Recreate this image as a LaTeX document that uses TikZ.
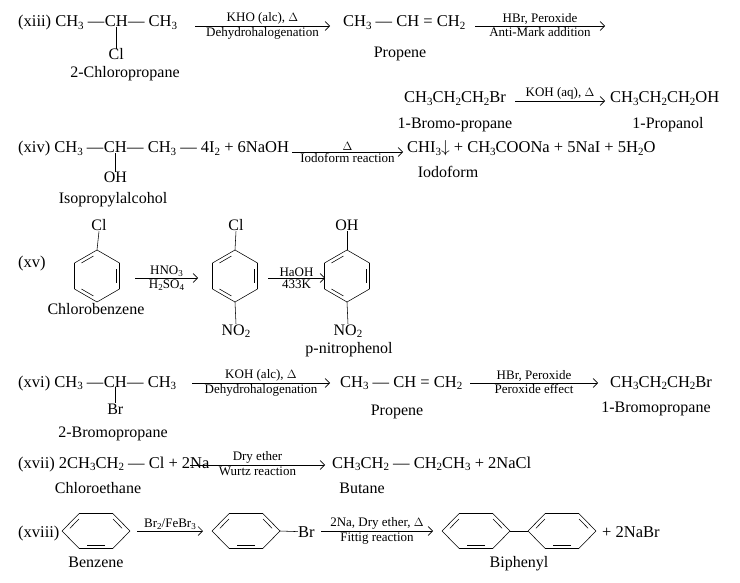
\documentclass[tikz,border=0pt]{standalone}
\usepackage{fontspec}
\setmainfont{Liberation Serif}
\usetikzlibrary{arrows.meta}
\newcommand\s[1]{\raisebox{-0.35ex}{\fontsize{11}{11}\selectfont #1}}
\newcommand\smsub[1]{\raisebox{-0.35ex}{\fontsize{9}{9}\selectfont #1}}
\newcommand\myring[5]{% x y startangle rx ry
  \foreach \a in {0,60,...,300}{\draw[bond] ([shift={(#1,#2)}]#3+\a:#4 and #5) -- ([shift={(#1,#2)}]#3+\a+60:#4 and #5);}
  \foreach \a in {0,120,240}{\draw[bond] ([shift={(#1,#2)}]#3+\a+10:#4*0.78 and #5*0.78) -- ([shift={(#1,#2)}]#3+\a+50:#4*0.78 and #5*0.78);}
}
\begin{document}
\begin{tikzpicture}[x=1pt,y=-1pt,
  t/.style={anchor=base west,inner sep=0pt,font=\fontsize{16.5}{18}\selectfont},
  lab/.style={anchor=base,inner sep=0pt,font=\fontsize{16}{18}\selectfont},
  sm/.style={inner sep=1.5pt,font=\fontsize{13}{14}\selectfont},
  bond/.style={line width=0.55pt},
  arr/.style={line width=0.55pt,-{Straight Barb[length=4.5pt,width=9pt]}}]
\useasboundingbox (0,0) rectangle (740,583);
\newcommand\rxn[5]{\draw[arr] (#1,#3) -- node[sm,above]{#4} node[sm,below]{#5} (#2,#3);}
% xiii
\node[t] (a1) at (18,27) {(xiii) CH\s3 --- };
\node[t] (a2) at (a1.base east) {CH};
\node[t] (a3) at (a2.base east) { --- CH\s3};
\node[lab] (a4) at ([yshift=-33]a2.base) {Cl};
\draw[bond] (a2.south) -- (a4.north);
\node[lab] (a5) at (125,78) {2-Chloropropane};
\rxn{195}{330}{26}{KHO (alc), $\Delta$}{Dehydrohalogenation}
\node[t] (b1) at (343,27) {CH\s3 --- CH = CH\s2};
\node[lab] (b2) at (400,58) {Propene};
\rxn{475}{605}{26}{HBr, Peroxide}{Anti-Mark addition}
\node[t] (c1) at (404,103) {CH\s3CH\s2CH\s2Br};
\rxn{515}{605}{101}{KOH (aq), $\Delta$}{}
\node[t] (c2) at (610,103) {CH\s3CH\s2CH\s2OH};
\node[lab] (c3) at (455,129) {1-Bromo-propane};
\node[lab] (c4) at (668,129) {1-Propanol};
% xiv
\node[t] (d1) at (18,153) {(xiv) CH\s3 --- };
\node[t] (d2) at (d1.base east) {CH};
\node[t] (d3) at (d2.base east) { --- CH\s3 --- 4I\s2 + 6NaOH};
\node[lab] (d4) at ([yshift=-30]d2.base) {OH};
\draw[bond] (d2.south) -- (d4.north);
\node[lab] (d5) at (113,204) {Isopropylalcohol};
\rxn{292}{403}{152}{$\Delta$}{Iodoform reaction}
\node[t] (e1) at (407,153) {CHI\s3$\downarrow$ + CH\s3COONa + 5NaI + 5H\s2O};
\node[lab] (e2) at (448,178) {Iodoform};
% xv
\node[t] (f0) at (18,268) {(xv)};
\myring{97}{276}{90}{26}{26}
\node[lab] (f1) at (99,231) {Cl};
\draw[bond] (97,250) -- (f1.south);
\node[lab] (f2) at (96,315) {Chlorobenzene};
\rxn{135}{198}{278}{HNO\smsub3}{H\smsub2SO\smsub4}
\myring{235}{276}{90}{26}{26}
\node[lab] (g1) at (236,231) {Cl};
\draw[bond] (235,250) -- (g1.south);
\node[lab] (g2) at (236,335) {NO\s2};
\draw[bond] (235,302) -- (g2.north);
\rxn{268}{325}{278}{HaOH}{433K}
\myring{347}{276}{90}{26}{26}
\node[lab] (h1) at (347,231) {OH};
\draw[bond] (347,250) -- (h1.south);
\node[lab] (h2) at (348,335) {NO\s2};
\draw[bond] (347,302) -- (h2.north);
\node[lab] (h3) at (349,353) {p-nitrophenol};
% xvi
\node[t] (i1) at (18,387) {(xvi) CH\s3 --- };
\node[t] (i2) at (i1.base east) {CH};
\node[t] (i3) at (i2.base east) { --- CH\s3};
\node[lab] (i4) at ([yshift=-27]i2.base) {Br};
\draw[bond] (i2.south) -- (i4.north);
\node[lab] (i5) at (113,437) {2-Bromopropane};
\rxn{192}{330}{383}{KOH (alc), $\Delta$}{Dehydrohalogenation}
\node[t] (j1) at (340,387) {CH\s3 --- CH = CH\s2};
\node[lab] (j2) at (397,415) {Propene};
\rxn{470}{598}{383}{HBr, Peroxide}{Peroxide effect}
\node[t] (j3) at (610,387) {CH\s3CH\s2CH\s2Br};
\node[lab] (j4) at (656,412) {1-Bromopropane};
% xvii
\node[t] (k1) at (18,468) {(xvii) 2CH\s3CH\s2 --- Cl + 2Na};
\rxn{190}{325}{465}{Dry ether}{Wurtz reaction}
\node[t] (k2) at (332,468) {CH\s3CH\s2 --- CH\s2CH\s3 + 2NaCl};
\node[lab] (k3) at (98,493) {Chloroethane};
\node[lab] (k4) at (362,493) {Butane};
% xviii
\node[t] (l0) at (18,537) {(xviii)};
\myring{96}{531}{60}{34}{20}
\node[lab] (l1) at (96,567) {Benzene};
\draw[arr] (137,531) -- node[sm,above]{Br\smsub2/FeBr\smsub3} (203,531);
\myring{246}{531}{60}{34}{20}
\node[t] (l2) at (298,537) {Br};
\draw[bond] (280,531) -- (l2.west);
\rxn{321}{433}{531}{2Na, Dry ether, $\Delta$}{Fittig reaction}
\myring{476}{531}{60}{34}{20}
\myring{562}{531}{60}{34}{20}
\draw[bond] (510,531) -- (528,531);
\node[t] (l3) at (602,537) {+ 2NaBr};
\node[lab] (l4) at (519,567) {Biphenyl};
\end{tikzpicture}
\end{document}
